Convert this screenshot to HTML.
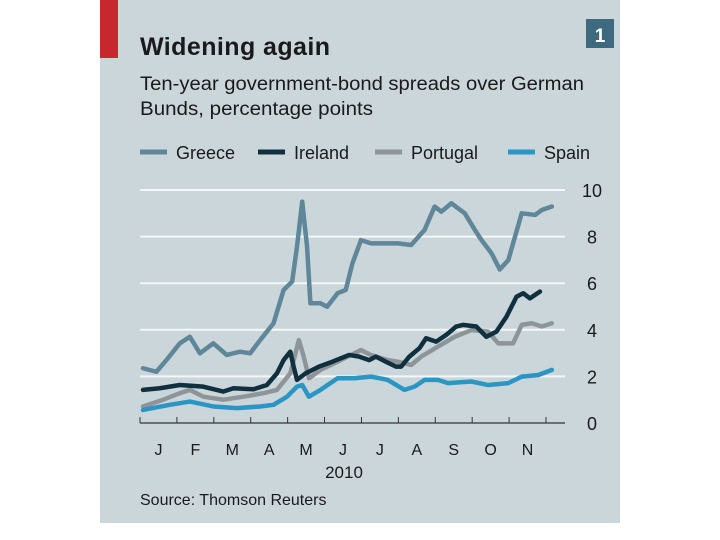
<!DOCTYPE html>
<html><head><meta charset="utf-8"><style>
html,body{margin:0;padding:0;background:#fff;width:720px;height:540px;overflow:hidden;font-family:"Liberation Sans",sans-serif}
#panel{position:absolute;left:100px;top:0;width:520px;height:523px;background:#cbd6db}
</style></head><body>
<div id="panel"></div>
<svg id="chart" width="720" height="540" style="position:absolute;left:0;top:0">
<rect x="100" y="0" width="18" height="58" fill="#c8272d"/>
<text x="140" y="55" font-size="25" font-weight="bold" fill="#1a1a1a" textLength="190">Widening again</text>
<rect x="586" y="19" width="28" height="29" fill="#3e6a80"/>
<text x="600" y="42" font-size="19" font-weight="bold" fill="#fff" text-anchor="middle">1</text>
<text x="140" y="90" font-size="19" fill="#1a1a1a" textLength="444" lengthAdjust="spacingAndGlyphs">Ten-year government-bond spreads over German</text>
<text x="140" y="115" font-size="19" fill="#1a1a1a" textLength="233" lengthAdjust="spacingAndGlyphs">Bunds, percentage points</text>
<g id="legend"></g>
<g id="grid"></g>
<g id="series"></g>
<g id="xaxis"></g>
<text x="344" y="478" font-size="17" fill="#1a1a1a" text-anchor="middle">2010</text>
<text x="140" y="505" font-size="16" fill="#1a1a1a">Source: Thomson Reuters</text>
</svg>
<script>
const yTicks=[0,2,4,6,8,10];
const months=["J","F","M","A","M","J","J","A","S","O","N"];
const seriesNames=["Greece","Ireland","Portugal","Spain"];
const greeceT=[0,0.36,0.63,0.99,1.26,1.53,1.89,2.25,2.61,2.88,3.15,3.51,3.78,4.01,4.14,4.28,4.41,4.5,4.77,4.95,5.23,5.45,5.63,5.86,6.13,6.58,6.85,7.21,7.57,7.84,8.02,8.29,8.65,8.92,9.1,9.37,9.59,9.82,10.18,10.54,10.72,10.99];
const greeceV=[2.35,2.2,2.7,3.42,3.7,2.99,3.42,2.92,3.06,2.99,3.56,4.28,5.71,6.07,7.57,9.5,7.57,5.14,5.14,4.99,5.57,5.71,6.85,7.85,7.71,7.71,7.71,7.64,8.29,9.29,9.07,9.43,9.0,8.29,7.85,7.28,6.59,6.99,9.0,8.93,9.14,9.29];
const irelandT=[0,0.45,0.99,1.62,2.16,2.43,2.97,3.33,3.6,3.78,3.96,4.05,4.14,4.37,4.73,5.09,5.54,5.81,6.08,6.26,6.53,6.8,6.94,7.16,7.43,7.61,7.88,8.15,8.42,8.6,8.96,9.23,9.5,9.77,10.04,10.22,10.4,10.67];
const irelandV=[1.42,1.49,1.63,1.56,1.35,1.49,1.45,1.63,2.13,2.7,3.06,2.42,1.85,2.13,2.42,2.63,2.92,2.85,2.7,2.85,2.63,2.42,2.42,2.85,3.21,3.64,3.49,3.78,4.14,4.21,4.14,3.7,3.92,4.56,5.42,5.57,5.35,5.64];
const portugalT=[0,0.54,0.99,1.26,1.62,2.16,2.7,3.24,3.6,3.96,4.19,4.32,4.46,4.77,5.23,5.68,5.86,6.13,6.58,6.85,7.21,7.48,7.93,8.38,8.83,9.28,9.55,9.95,10.18,10.45,10.72,10.99];
const portugalV=[0.71,1.0,1.28,1.42,1.13,1.0,1.13,1.28,1.42,2.13,3.56,2.85,1.92,2.28,2.63,2.99,3.13,2.92,2.7,2.63,2.49,2.85,3.28,3.7,3.99,3.92,3.42,3.42,4.21,4.28,4.14,4.28];
const spainT=[0,0.72,1.26,1.89,2.52,3.15,3.51,3.87,4.14,4.28,4.46,4.77,5.23,5.68,6.13,6.58,7.03,7.3,7.57,7.93,8.2,8.83,9.28,9.82,10.18,10.63,10.99];
const spainV=[0.56,0.78,0.92,0.71,0.64,0.71,0.78,1.13,1.56,1.63,1.13,1.42,1.92,1.92,1.99,1.85,1.42,1.56,1.85,1.85,1.71,1.78,1.63,1.71,1.99,2.06,2.28];
const colors=["#5f8799","#10303f","#8e9599","#2b95c4"];
const NS="http://www.w3.org/2000/svg";
const x0=140,x1=565,monthW=37.2;
const X=t=>143+t*monthW;
const Y=v=>423-23.3*v;
function mk(tag,attrs,parent){const e=document.createElementNS(NS,tag);for(const k in attrs)e.setAttribute(k,attrs[k]);parent.appendChild(e);return e;}
const grid=document.getElementById('grid');
yTicks.forEach(v=>{
  if(v>0){const l=mk('line',{x1:x0,x2:x1,y1:Y(v),y2:Y(v),stroke:'#f4f7f8','stroke-width':2},grid);
  
  }
  const t=mk('text',{x:592,y:Y(v)+7,'font-size':18,fill:'#1a1a1a','text-anchor':'middle'},grid);
  t.textContent=v;
  
  
});
const xa=document.getElementById('xaxis');
const ax=mk('line',{x1:x0,x2:x1,y1:423,y2:423,stroke:'#333','stroke-width':1.2},xa);


for(let i=0;i<=months.length;i++){
  const tk=mk('line',{x1:x0+i*((546-x0)/11),x2:x0+i*((546-x0)/11),y1:417,y2:423,stroke:'#333','stroke-width':1},xa);
  
  
}
months.forEach((m,i)=>{
  const t=mk('text',{x:x0+(i+0.5)*((546-x0)/11),y:455,'font-size':16,fill:'#1a1a1a','text-anchor':'middle'},xa);
  t.textContent=m;
  
  
});
const sg=document.getElementById('series');
const data=[[greeceT,greeceV],[irelandT,irelandV],[portugalT,portugalV],[spainT,spainV]];
[0,2,1,3].forEach(i=>{
  const [ts,vs]=data[i];
  const p=mk('polyline',{points:ts.map((t,j)=>X(t)+','+Y(vs[j])).join(' '),fill:'none',stroke:colors[i],'stroke-width':4.5,'stroke-linejoin':'round','stroke-linecap':'round'},sg);
  
  
});
const lg=document.getElementById('legend');
const lx=[140,258,375,508];
seriesNames.forEach((n,i)=>{
  const l=mk('line',{x1:lx[i],x2:lx[i]+27,y1:152,y2:152,stroke:colors[i],'stroke-width':5},lg);
  
  
  const t=mk('text',{x:lx[i]+36,y:159,'font-size':18,fill:'#1a1a1a'},lg);
  t.textContent=n;
  
  
});
</script>
</body></html>
